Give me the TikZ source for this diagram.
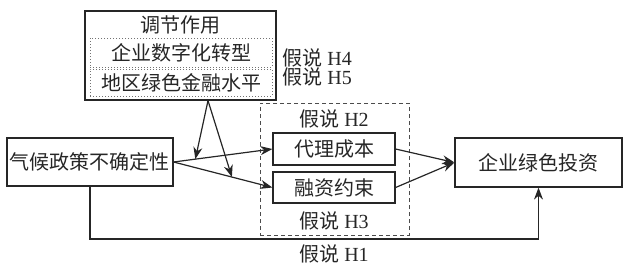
\documentclass[tikz,border=0pt]{standalone}
\usepackage{fontspec}
\setmainfont{Liberation Serif}
\newfontfamily\cjk{Noto Sans CJK SC}
\usetikzlibrary{arrows.meta,positioning,calc}

\begin{document}
\begin{tikzpicture}[x=0.5pt,y=-0.5pt,
  every node/.style={text=black!85},
  box/.style={draw=black!85, line width=0.6pt, inner sep=0pt, font=\cjk},
  dotbox/.style={draw=black!55, densely dotted, line width=0.5pt, inner sep=0pt, font=\cjk},
  hyp/.style={inner sep=0pt, text height=7.5pt, text depth=1pt},
  link/.style={-{Stealth[length=6pt,width=4.5pt]}, line width=0.6pt, draw=black!85}]
\useasboundingbox (0,0) rectangle (626,268);
% Cause and outcome
\node[box, minimum width=83pt, minimum height=24pt] (policy) at (90,162) {气候政策不确定性};
\node[box, minimum width=83.5pt, minimum height=24.5pt] (invest) at (538.5,162.5) {企业绿色投资};
% Moderators
\node[box, minimum width=95.5pt, minimum height=44.5pt] (moder) at (180.5,55.5) {};
\node[font=\cjk, inner sep=0pt] (modtitle) at (180.5,25) {调节作用};
\node[dotbox, minimum width=91pt, minimum height=14.5pt] (digital) at (181,52.5) {企业数字化转型};
\node[dotbox, minimum width=91pt, minimum height=13.5pt] (greenfin) at (181,82.5) {地区绿色金融水平};
\node[hyp, anchor=west] (h4) at (282,59) {{\cjk 假说} H4};
\node[hyp, anchor=west] (h5) at (282,78) {{\cjk 假说} H5};
% Mediators
\node[draw=black!70, dashed, dash pattern=on 2pt off 1.5pt, line width=0.5pt, minimum width=74.5pt, minimum height=66pt] (medframe) at (334.5,169) {};
\node[box, minimum width=61pt, minimum height=16pt] (agency) at (334,149) {代理成本};
\node[box, minimum width=61pt, minimum height=15.5pt] (constraint) at (334,187.5) {融资约束};
\node[hyp] (h2) at (334,120) {{\cjk 假说} H2};
\node[hyp] (h3) at (334,222) {{\cjk 假说} H3};
\node[hyp] (h1) at (334,255) {{\cjk 假说} H1};
% Paths
\draw[link] (policy.east) -- coordinate[pos=0.22] (hitA) (agency.west);
\draw[link] (policy.east) -- coordinate[pos=0.59] (hitB) (constraint.west);
\draw[link] (agency.east) -- (invest.west);
\draw[link] (constraint.east) -- (invest.west);
\coordinate (modout) at ($(moder.south)+(27.5,0)$);
\draw[link] (modout) -- (hitA);
\draw[link] (modout) -- (hitB);
% Direct effect
\coordinate (h1line) at (0,239);
\draw[link] (policy.south) -- (policy.south |- h1line) -| (invest.south);
\end{tikzpicture}
\end{document}
